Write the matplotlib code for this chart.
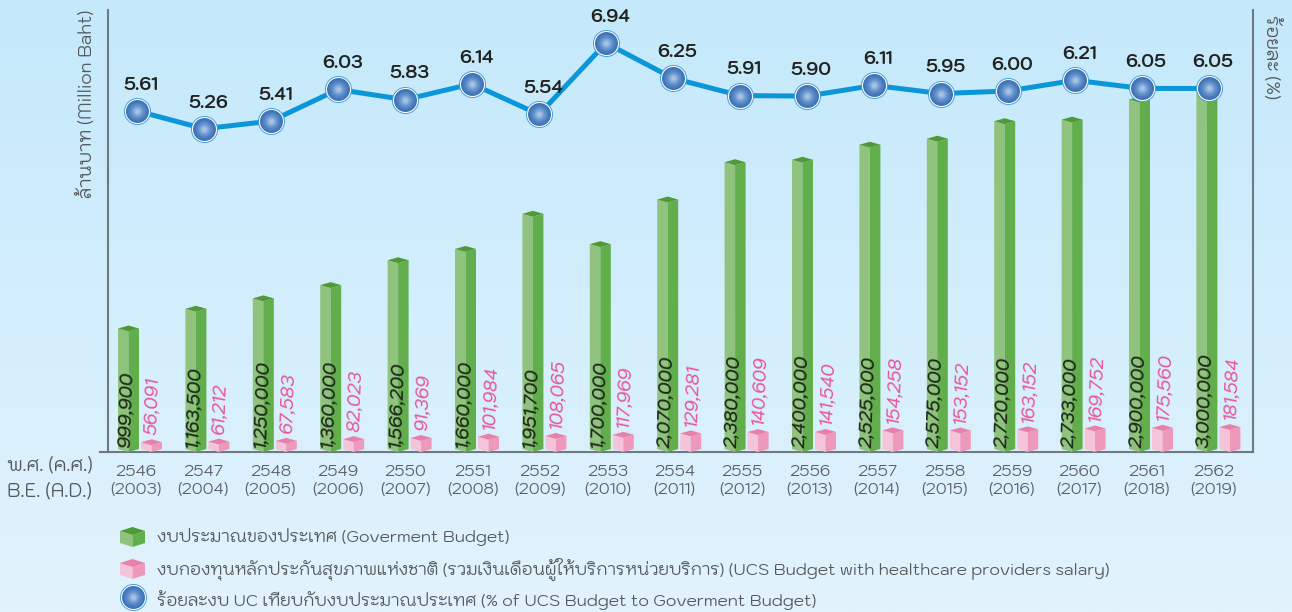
import matplotlib
matplotlib.use('Agg')
import matplotlib.pyplot as plt
import numpy as np
from matplotlib import font_manager as fm
from matplotlib.colors import LinearSegmentedColormap

# ---------- data ----------
years_be = [2546, 2547, 2548, 2549, 2550, 2551, 2552, 2553, 2554, 2555, 2556, 2557, 2558, 2559, 2560, 2561, 2562]
years_ad = [2003, 2004, 2005, 2006, 2007, 2008, 2009, 2010, 2011, 2012, 2013, 2014, 2015, 2016, 2017, 2018, 2019]
gov_budget = [999900, 1163500, 1250000, 1360000, 1566200, 1660000, 1951700, 1700000, 2070000,
              2380000, 2400000, 2525000, 2575000, 2720000, 2733000, 2900000, 3000000]
ucs_budget = [56091, 61212, 67583, 82023, 91369, 101984, 108065, 117969, 129281,
              140609, 141540, 154258, 153152, 163152, 169752, 175560, 181584]
ucs_share = [5.61, 5.26, 5.41, 6.03, 5.83, 6.14, 5.54, 6.94, 6.25,
             5.91, 5.90, 6.11, 5.95, 6.00, 6.21, 6.05, 6.05]

legend_labels = ['งบประมาณของประเทศ (Goverment Budget)',
                 'งบกองทุนหลักประกันสุขภาพแห่งชาติ (รวมเงินเดือนผู้ให้บริการหน่วยบริการ) (UCS Budget with healthcare providers salary)',
                 'ร้อยละงบ UC เทียบกับงบประมาณประเทศ (% of UCS Budget to Goverment Budget)']

# ---------- fonts ----------
have = {f.name for f in fm.fontManager.ttflist}
thai = [n for n in ['Kodchasan', 'Niramit', 'K2D', 'Kanit', 'Prompt', 'Sarabun', 'Noto Sans Thai'] if n in have]
plt.rcParams['font.family'] = thai + ['DejaVu Sans']

W, H = 1292, 612
fig = plt.figure(figsize=(W / 100, H / 100), dpi=100)

def px_rect(l, t, r, b):
    return [l / W, 1 - b / H, (r - l) / W, (b - t) / H]

# background gradient
bg = fig.add_axes([0, 0, 1, 1], zorder=0)
bg.axis('off')
cm = LinearSegmentedColormap.from_list('bg', ['#c4e9fb', '#e2f3fd'])
bg.imshow(np.linspace(0, 1, 256)[:, None], cmap=cm, aspect='auto', extent=[0, 1, 0, 1])

# main axes: left spine x=108, right spine x=1253, baseline y=452, top y=10
L, T, R, B = 108, 10, 1253, 452
ax = fig.add_axes(px_rect(L, T, R, B), zorder=2)
ax.patch.set_alpha(0)
PX_PER_M = 120.5
ax.set_ylim(0, (B - T) / PX_PER_M * 1e6)
step = 67.4
first = 128.5
ax.set_xlim((L - first) / step, (R - first) / step)
ux = 1 / step                        # one pixel in x units
uy = 1e6 / PX_PER_M                  # one pixel in y units

ax.spines['top'].set_visible(False)
for s in ('left', 'right', 'bottom'):
    ax.spines[s].set_color('#6f7a80')
    ax.spines[s].set_linewidth(1.5)
ax.set_yticks([])
x = np.arange(len(years_be))
ax.set_xticks(x + 7 * ux)
ax.set_xticklabels([f'{b}\n({a})' for b, a in zip(years_be, years_ad)],
                   fontsize=11.5, color='#5a5f63', linespacing=1.05)
ax.tick_params(axis='x', length=0, pad=9)
ax.plot([-8 / (R - L), 0], [0, 0], transform=ax.get_yaxis_transform(), clip_on=False,
        color='#6f7a80', lw=1.5)

def prism(a, cx, value, hw, dep, left, right, top, z=3):
    """Pseudo-3D column whose front edge rises to `value`."""
    hw_x, d = hw * ux, dep * uy
    a.fill([cx - hw_x, cx, cx, cx - hw_x], [d, 0, value, value + d], color=left, lw=0, zorder=z)
    a.fill([cx, cx + hw_x, cx + hw_x, cx], [0, d, value + d, value], color=right, lw=0, zorder=z)
    a.fill([cx - hw_x, cx, cx + hw_x, cx], [value + d, value, value + d, value + 2 * d],
           color=top, lw=0, zorder=z)

GREEN = ('#90c37d', '#62ad4c', '#4f9a37')
PINK = ('#f5c4d9', '#ee98bb', '#e97fab')
for xi, g, u in zip(x, gov_budget, ucs_budget):
    prism(ax, xi, g, 10.5, 3, *GREEN)
    prism(ax, xi + 23 * ux, u, 10.5, 3, *PINK)
    ax.text(xi - 3 * ux, 4 * uy, f'{g:,}', rotation=88, rotation_mode='anchor', ha='left', va='center',
            fontsize=12.5, style='italic', fontweight='semibold', color='#1e2a1a', zorder=5)
    ax.text(xi + 23.5 * ux, u + 10 * uy, f'{u:,}', rotation=88, rotation_mode='anchor', ha='left', va='center',
            fontsize=12.5, style='italic', fontweight='medium', color='#e8559b', zorder=5)

# share line on a second scale
ax2 = ax.twinx()
ax2.patch.set_alpha(0)
ax2.set_zorder(3)
PX_PER_PCT = 51
lo = 6.0 - (B - 91) / PX_PER_PCT
ax2.set_ylim(lo, lo + (B - T) / PX_PER_PCT)
ax2.set_yticks([])
for s in ax2.spines.values():
    s.set_visible(False)
xl = (x * 67.0 + 8.5) * ux
ax2.plot(xl, ucs_share, color='#0b96d9', lw=3.6, zorder=4, solid_joinstyle='round')

def sphere(a, xs, ys):
    d = 2 * 13.5 * 0.72
    a.scatter(xs, ys, s=d ** 2, c='#3f9fe0', lw=0, zorder=5, clip_on=False)
    a.scatter(xs, ys, s=(d * 0.93) ** 2, c='white', lw=0, zorder=5.1, clip_on=False)
    ramp = LinearSegmentedColormap.from_list('s', ['#3d6fb3', '#4f83c2', '#6f9dd2', '#a7c3e4'])
    for i, f in enumerate(np.linspace(0.85, 0.15, 12)):
        a.scatter(xs, ys, s=(d * f) ** 2, color=ramp(i / 11), lw=0, zorder=5.2 + i * 0.01, clip_on=False)

sphere(ax2, xl, ucs_share)
for xi, v in zip(xl, ucs_share):
    ax2.annotate(f'{v:.2f}', (xi, v), xytext=(3, 18.5), textcoords='offset points', ha='center', va='center',
                 fontsize=12.5, fontweight='bold', color='#222222', zorder=6)

# axis titles and row captions
TXT = '#55595c'
def ptext(px, py, s, **kw):
    kw.setdefault('color', TXT)
    return fig.text(px / W, 1 - py / H, s, **kw)

ptext(88, 198, 'ล้านบาท (Million Baht)', rotation=90, ha='center', va='bottom', fontsize=12.8, zorder=6)
ptext(1271, 15, 'ร้อยละ (%)', rotation=270, ha='center', va='top', fontsize=13, zorder=6)
ptext(7, 466, 'พ.ศ. (ค.ศ.)', ha='left', va='center', fontsize=13.5, zorder=6)
ptext(7, 492, 'B.E. (A.D.)', ha='left', va='center', fontsize=13.5, zorder=6)

# legend
leg = fig.add_axes([0, 0, 1, 1], zorder=4)
leg.set_xlim(0, W)
leg.set_ylim(H, 0)
leg.axis('off')
def cube(cy, left, right, top):
    x0, xc, x1 = 120, 132.5, 145
    yt, ym, yf, yb = cy - 10, cy - 6, cy - 2, cy + 10
    leg.fill([x0, xc, xc, x0], [ym, yf, yb, yb - 4], color=left, lw=0)
    leg.fill([xc, x1, x1, xc], [yf, ym, yb - 4, yb], color=right, lw=0)
    leg.fill([x0, xc, x1, xc], [ym, yt, ym, yf], color=top, lw=0)
cube(537, *GREEN)
cube(569, *PINK)
sphere(leg, [133], [597])
for cy, s in zip([538, 569, 601], legend_labels):
    ptext(157, cy, s, ha='left', va='center', fontsize=11.9, zorder=6)

fig.savefig('out.png', dpi=100)
